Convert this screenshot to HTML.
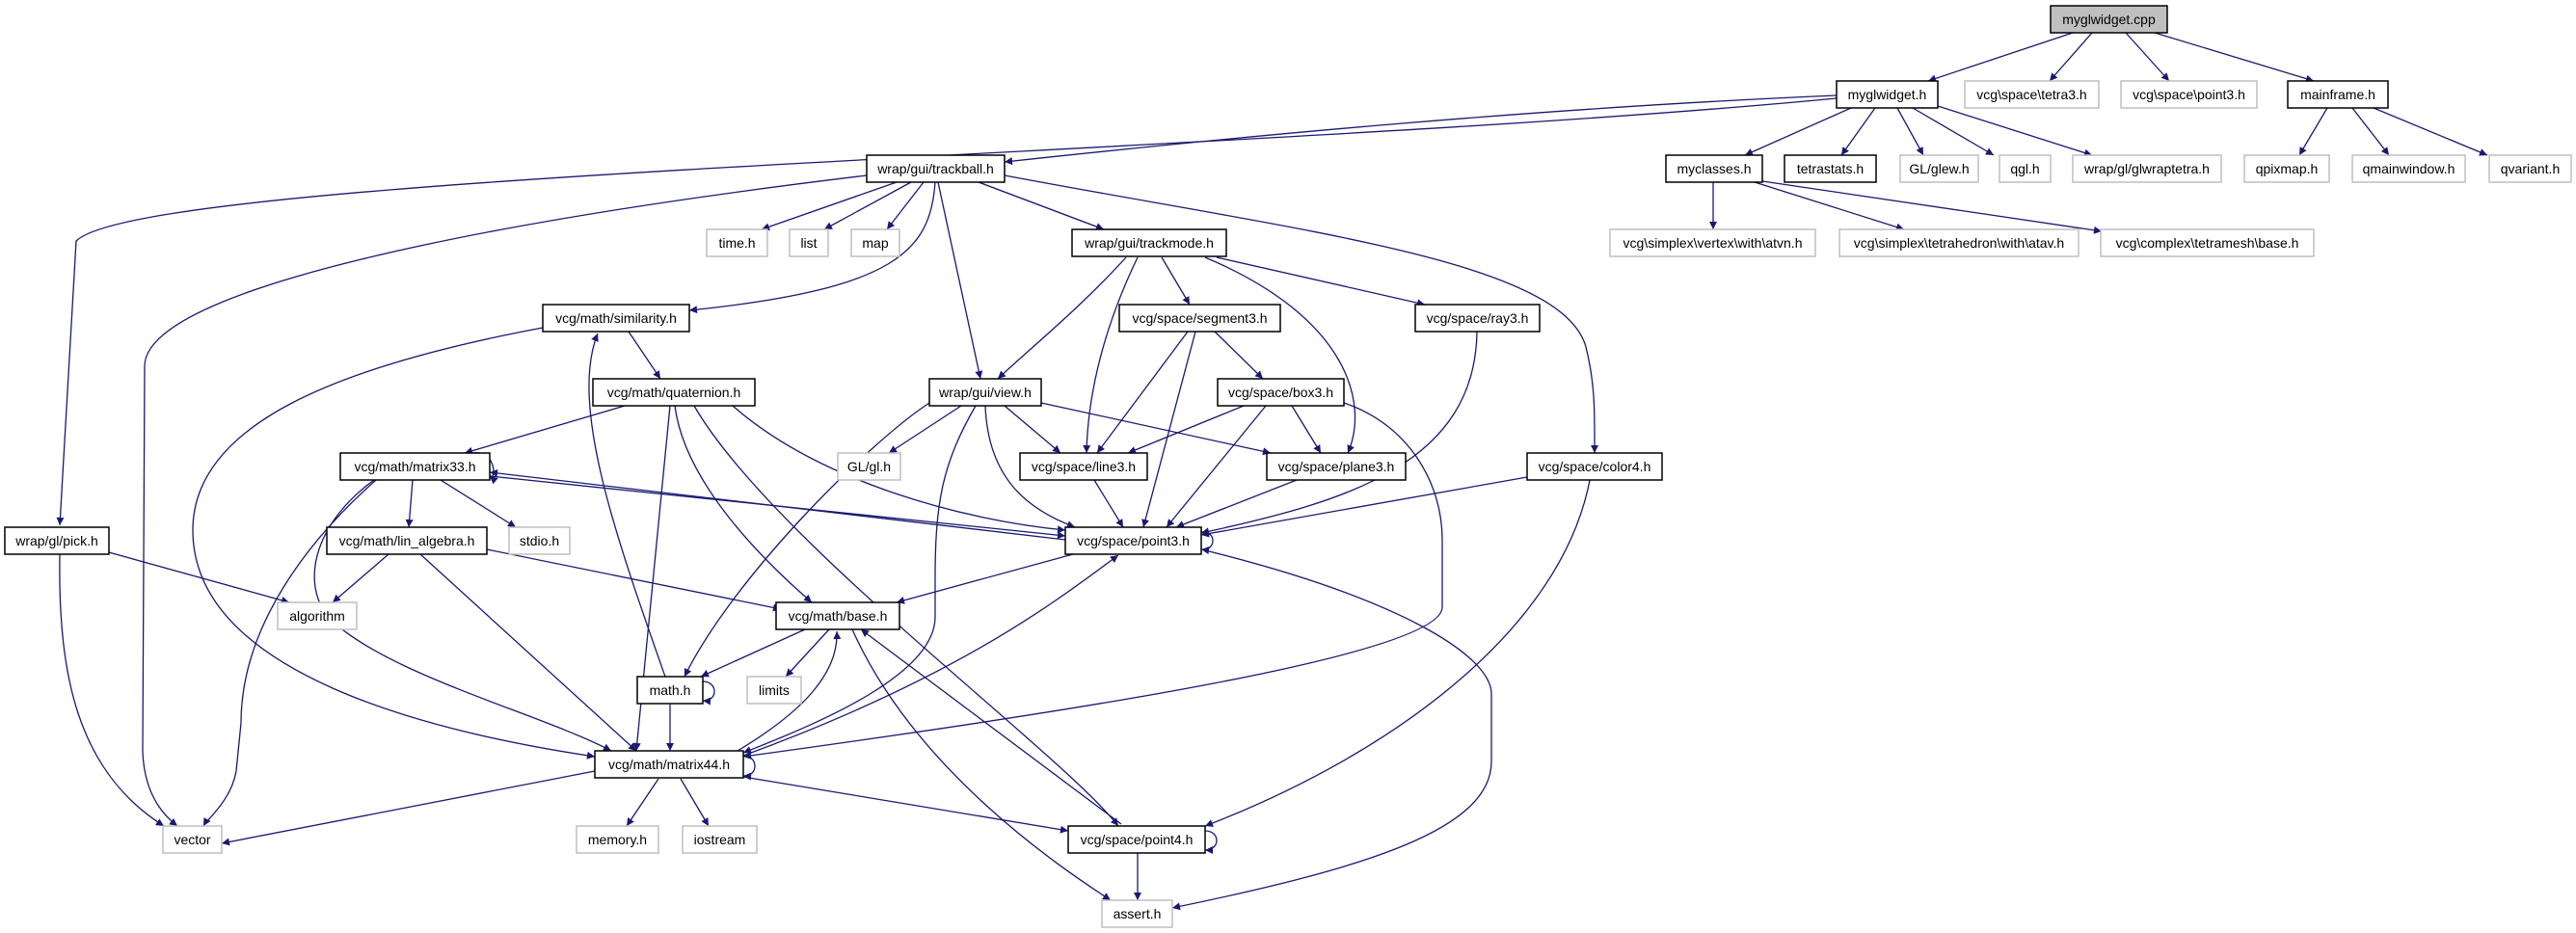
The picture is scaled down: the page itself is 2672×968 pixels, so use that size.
<!DOCTYPE html>
<html><head><meta charset="utf-8"><style>
html,body{margin:0;padding:0;background:#fff;}
svg{display:block;}
text{font-family:"Liberation Sans","DejaVu Sans",sans-serif;font-size:14px;text-anchor:middle;fill:#000;}
.n{fill:#fff;stroke:#000;stroke-width:1.5;}
.g{fill:#fff;stroke:#bfbfbf;stroke-width:1.5;}
path.e{fill:none;stroke:#191970;stroke-width:1.3;marker-end:url(#a);}
</style></head><body>
<svg width="2672" height="968" viewBox="0 0 2672 968" xmlns="http://www.w3.org/2000/svg">
<defs><marker id="a" viewBox="0 0 10 10" refX="10" refY="5" markerWidth="10" markerHeight="8" markerUnits="userSpaceOnUse" orient="auto"><path d="M0,0 L10,5 L0,10 z" fill="#191970"/></marker></defs>

<path class="e" d="M2150,34 L2000,84"/>
<path class="e" d="M2170,34 L2126,84"/>
<path class="e" d="M2205,34 L2250,84"/>
<path class="e" d="M2235,34 L2400,84"/>
<path class="e" d="M1905,99 C1600,112 1300,140 1042,168"/>
<path class="e" d="M1905,102 C1300,160 150,180 79,250 L62,545"/>
<path class="e" d="M1920,112 L1810,161"/>
<path class="e" d="M1945,112 L1910,161"/>
<path class="e" d="M1968,112 L1995,161"/>
<path class="e" d="M1984,112 L2068,161"/>
<path class="e" d="M2010,110 L2170,161"/>
<path class="e" d="M2414,112 L2385,161"/>
<path class="e" d="M2440,112 L2478,161"/>
<path class="e" d="M2462,112 L2580,161"/>
<path class="e" d="M1777,189 L1777,238"/>
<path class="e" d="M1820,189 L1975,238"/>
<path class="e" d="M1828,188 L2180,240"/>
<path class="e" d="M899,182 C500,230 150,300 150,380 L148,780 C150,830 175,850 184,857"/>
<path class="e" d="M930,189 L790,238"/>
<path class="e" d="M945,189 L855,238"/>
<path class="e" d="M958,189 L920,238"/>
<path class="e" d="M970,189 C965,260 930,300 715,322"/>
<path class="e" d="M973,189 L1017,393"/>
<path class="e" d="M1015,189 L1145,238"/>
<path class="e" d="M1042,182 C1350,240 1620,270 1645,360 C1655,400 1654,430 1654,470"/>
<path class="e" d="M1168,267 C1120,320 1070,360 1035,393"/>
<path class="e" d="M1180,267 C1140,350 1128,420 1127,470"/>
<path class="e" d="M1205,267 L1234,316"/>
<path class="e" d="M1250,267 C1400,330 1420,420 1398,470"/>
<path class="e" d="M1262,267 L1478,316"/>
<path class="e" d="M1232,344 L1138,470"/>
<path class="e" d="M1240,344 L1186,547"/>
<path class="e" d="M1260,344 L1310,393"/>
<path class="e" d="M1532,344 C1530,480 1400,520 1246,553"/>
<path class="e" d="M997,421 L922,470"/>
<path class="e" d="M1042,421 L1100,470"/>
<path class="e" d="M1080,418 L1318,470"/>
<path class="e" d="M1022,421 C1025,500 1070,530 1115,547"/>
<path class="e" d="M1012,421 C978,480 970,520 970,600 L970,640 C970,700 850,750 771,781"/>
<path class="e" d="M964,418 C900,460 760,600 710,702"/>
<path class="e" d="M1290,421 L1170,470"/>
<path class="e" d="M1313,421 L1210,547"/>
<path class="e" d="M1340,421 L1370,470"/>
<path class="e" d="M1394,418 C1460,440 1496,500 1496,560 L1496,630 C1496,680 1100,740 771,785"/>
<path class="e" d="M1345,498 L1220,547"/>
<path class="e" d="M1135,498 L1165,547"/>
<path class="e" d="M1584,495 L1246,555"/>
<path class="e" d="M1649,498 C1620,650 1450,780 1250,857"/>
<path class="e" d="M1246,552 C1262,550 1262,572 1246,570"/>
<path class="e" d="M1105,560 L508,490"/>
<path class="e" d="M508,494 L1105,556"/>
<path class="e" d="M760,421 C850,500 1000,540 1105,550"/>
<path class="e" d="M648,421 L482,470"/>
<path class="e" d="M695,421 L660,779"/>
<path class="e" d="M700,421 C710,500 790,580 842,625"/>
<path class="e" d="M720,421 C800,560 1100,780 1160,857"/>
<path class="e" d="M652,344 L685,393"/>
<path class="e" d="M563,340 C350,380 200,440 200,550 C200,700 450,760 617,785"/>
<path class="e" d="M690,702 C640,560 590,420 620,346"/>
<path class="e" d="M490,470 C515,466 515,500 508,494"/>
<path class="e" d="M428,498 L424,547"/>
<path class="e" d="M457,498 L535,547"/>
<path class="e" d="M390,498 C320,560 250,650 250,750 L245,800 C240,830 215,850 211,857"/>
<path class="e" d="M388,498 C330,540 310,600 340,640 C400,700 560,740 634,779"/>
<path class="e" d="M62,575 C60,700 80,800 170,857"/>
<path class="e" d="M113,573 L300,625"/>
<path class="e" d="M403,575 L345,625"/>
<path class="e" d="M436,575 L660,779"/>
<path class="e" d="M505,570 L810,632"/>
<path class="e" d="M1113,575 L930,625"/>
<path class="e" d="M1246,570 C1450,620 1547,680 1547,720 L1547,790 C1547,860 1420,900 1216,942"/>
<path class="e" d="M835,653 L727,702"/>
<path class="e" d="M860,653 L815,702"/>
<path class="e" d="M884,653 C950,800 1100,900 1152,934"/>
<path class="e" d="M765,779 C830,740 870,700 868,655"/>
<path class="e" d="M695,731 L695,779"/>
<path class="e" d="M729,707 C745,707 745,728 729,727"/>
<path class="e" d="M771,784 C787,784 787,806 771,805"/>
<path class="e" d="M771,784 C1000,700 1100,620 1160,576"/>
<path class="e" d="M617,800 L230,875"/>
<path class="e" d="M683,808 L650,857"/>
<path class="e" d="M706,808 L735,857"/>
<path class="e" d="M771,806 L1108,862"/>
<path class="e" d="M1163,855 L893,653"/>
<path class="e" d="M1250,862 C1266,862 1266,882 1250,882"/>
<path class="e" d="M1180,885 L1180,934"/>

<rect x="2127" y="6" width="121" height="28" fill="#bfbfbf" stroke="#000" stroke-width="1.5"/><text x="2187.5" y="25">myglwidget.cpp</text>
<rect class="n" x="1905" y="84" width="105" height="28"/><text x="1957.5" y="103">myglwidget.h</text>
<rect class="g" x="2038" y="84" width="139" height="28"/><text x="2107.5" y="103">vcg\space\tetra3.h</text>
<rect class="g" x="2200" y="84" width="141" height="28"/><text x="2270.5" y="103">vcg\space\point3.h</text>
<rect class="n" x="2373" y="84" width="104" height="28"/><text x="2425" y="103">mainframe.h</text>
<rect class="n" x="1728" y="161" width="100" height="28"/><text x="1778" y="180">myclasses.h</text>
<rect class="n" x="1851" y="161" width="95" height="28"/><text x="1898.5" y="180">tetrastats.h</text>
<rect class="g" x="1971" y="161" width="81" height="28"/><text x="2011.5" y="180">GL/glew.h</text>
<rect class="g" x="2074" y="161" width="53" height="28"/><text x="2100.5" y="180">qgl.h</text>
<rect class="g" x="2150" y="161" width="154" height="28"/><text x="2227" y="180">wrap/gl/glwraptetra.h</text>
<rect class="g" x="2328" y="161" width="88" height="28"/><text x="2372" y="180">qpixmap.h</text>
<rect class="g" x="2440" y="161" width="117" height="28"/><text x="2498.5" y="180">qmainwindow.h</text>
<rect class="g" x="2582" y="161" width="85" height="28"/><text x="2624.5" y="180">qvariant.h</text>
<rect class="g" x="1670" y="238" width="213" height="28"/><text x="1776.5" y="257">vcg\simplex\vertex\with\atvn.h</text>
<rect class="g" x="1908" y="238" width="248" height="28"/><text x="2032" y="257">vcg\simplex\tetrahedron\with\atav.h</text>
<rect class="g" x="2179" y="238" width="221" height="28"/><text x="2289.5" y="257">vcg\complex\tetramesh\base.h</text>

<rect class="n" x="899" y="161" width="143" height="28"/><text x="970.5" y="180">wrap/gui/trackball.h</text>
<rect class="g" x="733" y="238" width="63" height="28"/><text x="764.5" y="257">time.h</text>
<rect class="g" x="819" y="238" width="40" height="28"/><text x="839" y="257">list</text>
<rect class="g" x="883" y="238" width="50" height="28"/><text x="908" y="257">map</text>
<rect class="n" x="1112" y="238" width="160" height="28"/><text x="1192" y="257">wrap/gui/trackmode.h</text>
<rect class="n" x="563" y="316" width="152" height="28"/><text x="639" y="335">vcg/math/similarity.h</text>
<rect class="n" x="1161" y="316" width="167" height="28"/><text x="1244.5" y="335">vcg/space/segment3.h</text>
<rect class="n" x="1468" y="316" width="129" height="28"/><text x="1532.5" y="335">vcg/space/ray3.h</text>
<rect class="n" x="615" y="393" width="168" height="28"/><text x="699" y="412">vcg/math/quaternion.h</text>
<rect class="n" x="964" y="393" width="116" height="28"/><text x="1022" y="412">wrap/gui/view.h</text>
<rect class="n" x="1263" y="393" width="131" height="28"/><text x="1328.5" y="412">vcg/space/box3.h</text>
<rect class="n" x="353" y="470" width="155" height="28"/><text x="430.5" y="489">vcg/math/matrix33.h</text>
<rect class="g" x="869" y="470" width="65" height="28"/><text x="901.5" y="489">GL/gl.h</text>
<rect class="n" x="1058" y="470" width="132" height="28"/><text x="1124" y="489">vcg/space/line3.h</text>
<rect class="n" x="1314" y="470" width="144" height="28"/><text x="1386" y="489">vcg/space/plane3.h</text>
<rect class="n" x="1584" y="470" width="140" height="28"/><text x="1654" y="489">vcg/space/color4.h</text>
<rect class="n" x="5" y="547" width="108" height="28"/><text x="59" y="566">wrap/gl/pick.h</text>
<rect class="n" x="339" y="547" width="166" height="28"/><text x="422" y="566">vcg/math/lin_algebra.h</text>
<rect class="g" x="528" y="547" width="63" height="28"/><text x="559.5" y="566">stdio.h</text>
<rect class="n" x="1105" y="547" width="141" height="28"/><text x="1175.5" y="566">vcg/space/point3.h</text>
<rect class="g" x="288" y="625" width="82" height="28"/><text x="329" y="644">algorithm</text>
<rect class="n" x="805" y="625" width="128" height="28"/><text x="869" y="644">vcg/math/base.h</text>
<rect class="n" x="661" y="702" width="68" height="28"/><text x="695" y="721">math.h</text>
<rect class="g" x="775" y="702" width="56" height="28"/><text x="803" y="721">limits</text>
<rect class="n" x="617" y="779" width="154" height="28"/><text x="694" y="798">vcg/math/matrix44.h</text>
<rect class="g" x="169" y="857" width="61" height="28"/><text x="199.5" y="876">vector</text>
<rect class="g" x="598" y="857" width="85" height="28"/><text x="640.5" y="876">memory.h</text>
<rect class="g" x="708" y="857" width="77" height="28"/><text x="746.5" y="876">iostream</text>
<rect class="n" x="1108" y="857" width="142" height="28"/><text x="1179" y="876">vcg/space/point4.h</text>
<rect class="g" x="1143" y="934" width="73" height="28"/><text x="1179.5" y="953">assert.h</text>
</svg>
</body></html>
